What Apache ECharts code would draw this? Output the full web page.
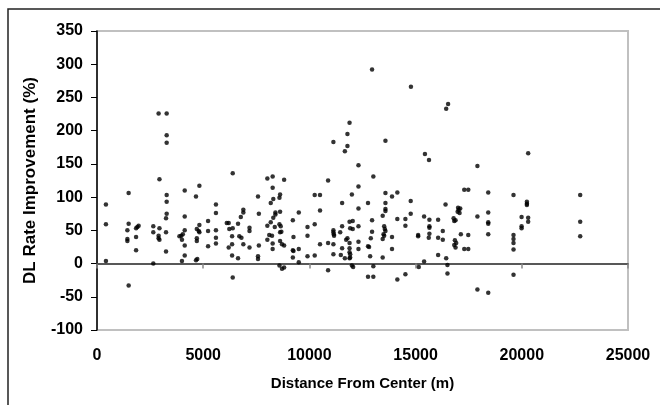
<!DOCTYPE html>
<html>
<head>
<meta charset="utf-8">
<script src="https://cdn.jsdelivr.net/npm/echarts@6/dist/echarts.min.js"></script>
<style>
html,body{margin:0;padding:0;background:#fff;}
#chart{width:660px;height:405px;}
</style>
</head>
<body>
<div id="chart"></div>
<script>
// Distance from center (m)
const distance = [
  420,420,420,
  1490,1490,1430,1430,1430,1490,
  1840,1840,1900,1960,1840,
  2650,2650,2650,
  2940,2940,2900,2900,2940,2900,
  3280,3280,3280,3280,3280,3280,3250,3250,3250,
  3880,3970,4040,4000,4130,4130,4130,4130,4130,4000,
  4660,4820,4700,4790,4820,4820,4700,4700,4720,4660,
  5230,5230,5230,
  5600,5600,5600,5600,5600,
  6110,6200,6230,6200,
  6390,6390,6360,6360,6360,6390,
  6640,6640,6700,6800,6770,6890,6890,6890,
  7180,7180,7180,
  7580,7620,7620,7580,7580,
  8020,8270,8270,8180,8300,8400,8400,8020,8180,8300,8020,8110,8240,8270,8270,8590,
  8590,8620,8810,8620,8370,8590,8650,8680,8620,8620,8710,8810,8710,8810,
  9220,9250,9220,9250,9220,
  9500,9500,9500,
  9910,9910,9910,
  10250,10500,10500,10250,10500,10250,
  10880,10880,10880,
  11130,11130,11150,11160,11130,11130,11130,
  11540,11540,11450,11730,11790,11540,11480,11670,
  11890,12040,11920,12040,11890,11890,11890,11920,11920,11890,12000,12060,12000,
  12310,12310,12310,12310,12310,12310,
  11670,11890,11790,11790,
  12950,14780,16530,16440,13580,15440,15630,
  12760,13010,12760,12810,12890,12950,12950,12860,13010,12760,13010,
  13450,13450,13450,13520,13550,13580,13490,13520,
  13580,13580,13580,13580,
  13890,14140,13890,13890,14140,14140,
  14520,14520,14520,14770,14770,
  15120,15120,15150,15400,15400,
  15650,15650,15650,15650,15620,
  16060,16060,16060,16280,16280,16410,16440,16500,16500,
  16790,16820,16880,16850,16910,16820,16880,
  17000,17030,17070,16980,17100,
  17130,17290,17480,17290,17480,17480,
  17910,17910,17910,
  18420,18420,18420,18420,18420,18420,
  19610,19610,19610,19610,19610,19610,
  19990,19990,19990,
  20240,20240,20240,20300,20300,20300,
  22750,22750,22750
];
// DL rate improvement (%)
const improvement = [
  89,59,4,
  106,60,50,37,34,-33,
  40,53,55,57,20,
  56,47,0,
  127,53,42,38,36,226,
  226,193,182,103,93,75,68,47,18,
  41,42,44,36,110,71,50,27,12,4,
  101,117,52,49,58,47,38,34,7,5,
  64,49,26,
  89,76,50,39,30,
  61,61,52,24,
  136,53,41,29,12,-21,
  60,8,41,39,70,81,77,29,
  54,49,24,
  101,75,27,11,7,
  128,131,114,91,97,77,74,57,62,69,36,43,42,30,22,-3,
  99,104,126,78,55,59,56,48,47,34,29,27,-8,-6,
  65,40,20,19,9,
  77,22,2,
  55,42,11,
  103,103,80,59,29,12,
  -10,125,31,
  50,47,44,42,29,14,183,
  91,56,47,36,38,23,13,8,
  63,64,53,52,31,23,17,14,9,8,-3,-5,104,
  116,148,83,56,33,22,
  169,212,195,177,
  292,266,240,233,185,165,156,
  91,131,26,25,38,48,65,11,-4,-20,-20,
  72,37,9,56,52,49,44,42,
  106,91,82,79,
  101,107,40,22,67,-24,
  -16,67,57,94,75,
  43,41,-5,71,3,
  66,56,54,45,39,
  66,39,13,49,36,89,8,-2,-15,
  68,64,65,35,31,28,24,
  84,81,76,78,83,
  44,111,111,22,22,43,
  147,71,-39,
  107,77,62,60,44,-44,
  103,43,37,31,21,-17,
  70,56,53,
  93,90,88,69,63,166,
  103,63,41
];
const xTicks = { min: 0, max: 25000, step: 5000 };
const yTicks = { min: -100, max: 350, step: 50 };

const points = distance.map((d, i) => [d, improvement[i]]);
const font = "'Liberation Sans', Arial, sans-serif";
const plain = v => String(v);

const chart = echarts.init(document.getElementById('chart'), null, { renderer: 'canvas' });
chart.setOption({
  animation: false,
  backgroundColor: '#fff',
  grid: {
    left: 97, top: 31, width: 531, height: 299,
    show: true, borderColor: '#c0c0c0', borderWidth: 2, backgroundColor: 'transparent'
  },
  graphic: [{
    type: 'rect', silent: true, z: 100,
    shape: { x: 8, y: 9, width: 700, height: 500 },
    style: { fill: 'none', stroke: '#222', lineWidth: 1.5 }
  }],
  xAxis: [{
    type: 'value', min: xTicks.min, max: xTicks.max, interval: xTicks.step,
    position: 'bottom',
    axisLine: { show: true, onZero: true, lineStyle: { color: '#222', width: 1.5 } },
    axisTick: { show: true, length: 5, lineStyle: { color: '#888', width: 1.5 } },
    axisLabel: { show: false },
    splitLine: { show: false }
  }, {
    type: 'value', min: xTicks.min, max: xTicks.max, interval: xTicks.step,
    position: 'bottom',
    axisLine: { show: false, onZero: false },
    axisTick: { show: false },
    axisLabel: { show: true, margin: 18, fontSize: 16, fontWeight: 'bold', color: '#000', fontFamily: font, formatter: plain },
    splitLine: { show: false },
    name: 'Distance From Center (m)',
    nameLocation: 'middle', nameGap: 46,
    nameTextStyle: { fontSize: 15, fontWeight: 'bold', color: '#000', fontFamily: font }
  }],
  yAxis: {
    type: 'value', min: yTicks.min, max: yTicks.max, interval: yTicks.step,
    axisLine: { show: true, onZero: false, lineStyle: { color: '#000', width: 1.5 } },
    axisTick: { show: true, length: 6, lineStyle: { color: '#000', width: 1 } },
    axisLabel: { margin: 14, fontSize: 16, fontWeight: 'bold', color: '#000', fontFamily: font, formatter: plain },
    splitLine: { show: false },
    name: 'DL Rate Improvement (%)',
    nameLocation: 'middle', nameRotate: 90, nameGap: 58,
    nameTextStyle: { fontSize: 17, fontWeight: 'bold', color: '#000', fontFamily: font }
  },
  series: [{
    type: 'scatter',
    xAxisIndex: 0, yAxisIndex: 0,
    data: points,
    symbol: 'circle',
    symbolSize: 4.5,
    itemStyle: { color: '#000' }
  }]
});
</script>
</body>
</html>
